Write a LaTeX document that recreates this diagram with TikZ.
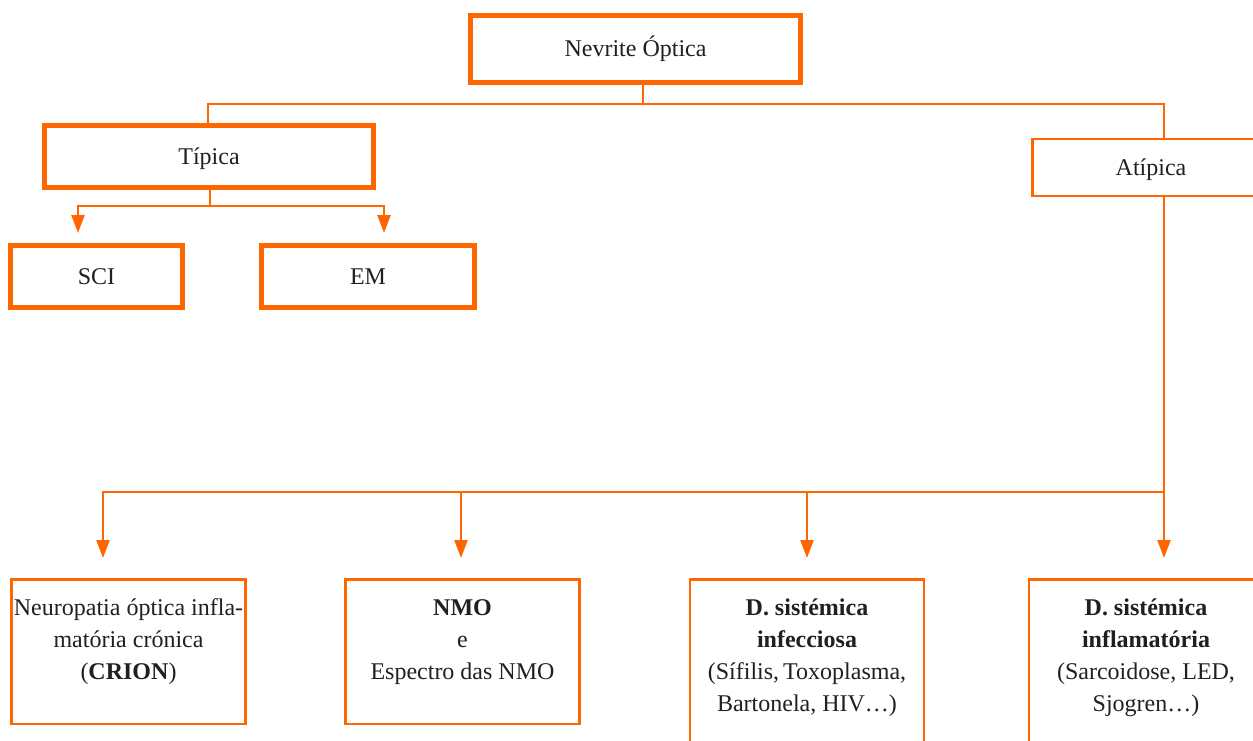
\documentclass[tikz,border=0pt]{standalone}
\usepackage{fontspec}
\setmainfont{Liberation Serif}
\usetikzlibrary{arrows.meta}
\definecolor{ora}{HTML}{FF6600}
\definecolor{txt}{HTML}{231F20}
\newcommand{\lines}[1]{\begin{tabular}[t]{@{}c@{}}#1\end{tabular}}
\begin{document}
\begin{tikzpicture}[x=1pt,y=-1pt,
  thickbox/.style={draw=ora, line width=5pt, fill=white, outer sep=0pt, inner sep=0pt,
    text=txt, font=\fontsize{24}{32}\selectfont, text height=16pt, text depth=0pt},
  thinbox/.style={thickbox, line width=2.5pt},
  lowbox/.style={thinbox, anchor=north, minimum width=234pt},
  conn/.style={draw=ora, line width=2.5pt},
  arr/.style={conn, -{Triangle[length=18pt,width=13pt]}}]
\useasboundingbox (0,0) rectangle (1253,741);
\clip (0,0) rectangle (1253,741);
% nodes
\node[thickbox, minimum width=330pt, minimum height=67pt] (top) at (635.5,49) {Nevrite Óptica};
\node[thickbox, minimum width=329pt, minimum height=62pt] (tipica) at (209,156.5) {Típica};
\node[thinbox, minimum width=237.5pt, minimum height=56.5pt] (atipica) at (1151,167.5) {Atípica};
\node[thickbox, minimum width=172pt, minimum height=62pt] (sci) at (96.5,276.5) {SCI};
\node[thickbox, minimum width=213pt, minimum height=62pt] (em) at (368,276.5) {EM};
\node[lowbox, minimum height=144.5pt, text depth=89pt] (crion) at (128.5,579.25)
  {\lines{Neuropatia óptica infla-\\matória crónica\\(\textbf{CRION})}};
\node[lowbox, minimum height=144.5pt, text depth=89pt] (nmo) at (462.5,579.25)
  {\lines{\textbf{NMO}\\e\\Espectro das NMO}};
\node[lowbox, minimum height=181pt, text depth=125.5pt] (infec) at (807,579.25)
  {\lines{\textbf{D. sistémica}\\\textbf{infecciosa}\\(Sífilis,\,Toxoplasma,\\Bartonela, HIV\ldots)}};
\node[lowbox, minimum height=181pt, text depth=125.5pt] (infla) at (1146,579.25)
  {\lines{\textbf{D. sistémica}\\\textbf{inflamatória}\\(Sarcoidose, LED,\\Sjogren\ldots)}};
% coordinates
\coordinate (ts) at (643,104);
\coordinate (bl) at (208,104);
\coordinate (br) at (1164,104);
\coordinate (tj) at (210,206);
\coordinate (sciA) at (78,233);
\coordinate (emA) at (384,233);
\coordinate (b4) at (1164,492);
\coordinate (a1) at (103,558);
\coordinate (a2) at (461,558);
\coordinate (a3) at (807,558);
\coordinate (a4) at (1164,558);
% connectors
\draw[conn] (ts |- top.south) -- (ts);
\draw[conn] (bl |- tipica.north) |- (br) -- (br |- atipica.north);
\draw[conn] (tj |- tipica.south) -- (tj);
\draw[arr] (tj) -| (sciA);
\draw[arr] (tj) -| (emA);
\draw[arr] (b4 |- atipica.south) -- (a4);
\draw[arr] (b4) -| (a1);
\draw[arr] (a2 |- b4) -- (a2);
\draw[arr] (a3 |- b4) -- (a3);
\end{tikzpicture}
\end{document}
